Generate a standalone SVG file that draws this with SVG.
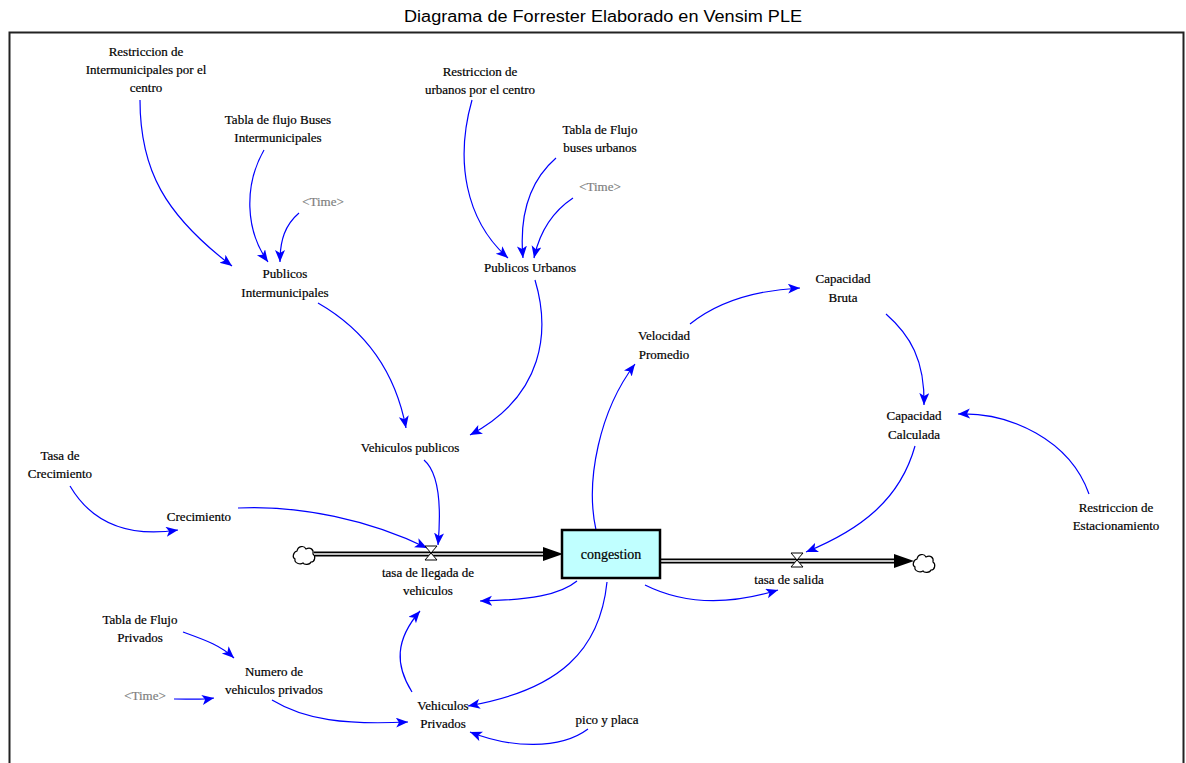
<svg xmlns="http://www.w3.org/2000/svg" width="1186" height="763" viewBox="0 0 1186 763">
  <style>
    .title { font-family: "Liberation Sans", Arial, sans-serif; font-size: 16px; fill: #000; }
    .lbl { font-family: "Liberation Serif", "Times New Roman", serif; font-size: 13px; fill: #000; text-anchor: middle; stroke: #000; stroke-width: 0.2; }
    .ghost { fill: #808080; stroke: #808080; }
    .link { fill: none; stroke: #0000ff; stroke-width: 1.2; marker-end: url(#ah); }
    .pipeOuter { stroke: #000; stroke-width: 5; fill: none; }
    .pipeInner { stroke: #fff; stroke-width: 1.6; fill: none; }
    .valve { fill: #fff; stroke: #000; stroke-width: 1; }
    .cloud { fill: #fff; stroke: #000; stroke-width: 1.2; }
  </style>
  <defs>
    <marker id="ah" markerUnits="userSpaceOnUse" markerWidth="14" markerHeight="12" refX="12" refY="5" orient="auto">
      <path d="M0,0 L12,5 L0,10 L3,5 z" fill="#0000ff"/>
    </marker>
  </defs>

  <rect width="1186" height="763" fill="#fff"/>
  <text class="title" x="603" y="22" text-anchor="middle" textLength="398" lengthAdjust="spacingAndGlyphs">Diagrama de Forrester Elaborado en Vensim PLE</text>

  <!-- outer frame -->
  <path d="M9.5,770 V32.5 H1183.5 V770" fill="none" stroke="#222" stroke-width="2"/>

  <!-- connectors -->
  <g id="connectors">
    <path class="link" d="M140,100 C140,170 165,215 232,266"/>
    <path class="link" d="M264,150 C244,185 245,230 268,262"/>
    <path class="link" d="M299,213 C285,225 280,240 280,262"/>
    <path class="link" d="M318,303 C365,330 395,370 406,428"/>
    <path class="link" d="M472,100 C455,160 465,220 508,258"/>
    <path class="link" d="M556,158 C525,185 520,225 523,258"/>
    <path class="link" d="M573,198 C555,210 540,230 534,258"/>
    <path class="link" d="M535,280 C550,330 545,395 470,435"/>
    <path class="link" d="M424,460 C438,472 442,500 438,545"/>
    <path class="link" d="M70,486 C90,520 125,538 178,530"/>
    <path class="link" d="M238,508 C300,505 370,520 427,548"/>
    <path class="link" d="M596,530 C585,480 600,410 635,364"/>
    <path class="link" d="M690,324 C720,300 760,290 800,288"/>
    <path class="link" d="M886,314 C910,335 925,360 924,405"/>
    <path class="link" d="M1089,494 C1070,440 1010,412 958,414"/>
    <path class="link" d="M915,446 C900,500 860,530 806,552"/>
    <path class="link" d="M577,581 C560,595 530,600 480,601"/>
    <path class="link" d="M645,585 C685,605 730,605 778,590"/>
    <path class="link" d="M607,582 C600,650 560,690 468,706"/>
    <path class="link" d="M412,692 C395,665 395,640 420,611"/>
    <path class="link" d="M183,632 C205,640 220,645 234,658"/>
    <path class="link" d="M174,699 C190,699 202,700 214,698"/>
    <path class="link" d="M272,700 C305,720 345,725 408,722"/>
    <path class="link" d="M588,729 C560,750 510,748 470,732"/>
  </g>

  <!-- inflow pipe -->
  <g id="inflow">
    <path class="cloud" d="M297,551 c1,-5 7,-6 9,-2 c4,-2 8,0 7,5 c3,2 2,8 -2,8 c-1,3 -7,3 -8,1 c-3,2 -9,0 -8,-4 c-3,-1 -2,-7 2,-8 z"/>
    <path class="pipeOuter" d="M314,554 H547"/>
    <path class="pipeInner" d="M314,554 H547"/>
    <path d="M543,547 L563,554 L543,561 z" fill="#000"/>
    <path class="valve" d="M425,546 H437 L425,560 H437 z"/>
  </g>

  <!-- outflow pipe -->
  <g id="outflow">
    <path class="pipeOuter" d="M661,561 H898"/>
    <path class="pipeInner" d="M661,561 H898"/>
    <path d="M894,554 L914,561 L894,568 z" fill="#000"/>
    <path class="cloud" d="M917,559 c1,-5 7,-6 9,-2 c4,-2 8,0 7,5 c3,2 2,8 -2,8 c-1,3 -7,3 -8,1 c-3,2 -9,0 -8,-4 c-3,-1 -2,-7 2,-8 z"/>
    <path class="valve" d="M791,553 H803 L791,567 H803 z"/>
  </g>

  <!-- stock -->
  <g id="congestion">
    <rect x="562" y="530" width="98" height="48" fill="#c0ffff" stroke="#000" stroke-width="2.5"/>
    <text class="lbl" x="611" y="559" style="font-size:14px">congestion</text>
  </g>

  <g id="restriccion-intermunicipales"><text class="lbl" x="146" y="56">Restriccion de</text><text class="lbl" x="146" y="74">Intermunicipales por el</text><text class="lbl" x="146" y="92">centro</text></g>
  <g id="tabla-buses-intermunicipales"><text class="lbl" x="278" y="124">Tabla de flujo Buses</text><text class="lbl" x="278" y="142">Intermunicipales</text></g>
  <g id="time-1"><text class="lbl ghost" x="323" y="206">&lt;Time&gt;</text></g>
  <g id="publicos-intermunicipales"><text class="lbl" x="285" y="278">Publicos</text><text class="lbl" x="285" y="297">Intermunicipales</text></g>
  <g id="restriccion-urbanos"><text class="lbl" x="480" y="76">Restriccion de</text><text class="lbl" x="480" y="94">urbanos por el centro</text></g>
  <g id="tabla-buses-urbanos"><text class="lbl" x="600" y="134">Tabla de Flujo</text><text class="lbl" x="600" y="152">buses urbanos</text></g>
  <g id="time-2"><text class="lbl ghost" x="600" y="191">&lt;Time&gt;</text></g>
  <g id="publicos-urbanos"><text class="lbl" x="530" y="272">Publicos Urbanos</text></g>
  <g id="velocidad-promedio"><text class="lbl" x="664" y="340">Velocidad</text><text class="lbl" x="664" y="359">Promedio</text></g>
  <g id="capacidad-bruta"><text class="lbl" x="843" y="283">Capacidad</text><text class="lbl" x="843" y="302">Bruta</text></g>
  <g id="capacidad-calculada"><text class="lbl" x="914" y="420">Capacidad</text><text class="lbl" x="914" y="439">Calculada</text></g>
  <g id="restriccion-estacionamiento"><text class="lbl" x="1116" y="512">Restriccion de</text><text class="lbl" x="1116" y="530">Estacionamiento</text></g>
  <g id="vehiculos-publicos"><text class="lbl" x="410" y="452">Vehiculos publicos</text></g>
  <g id="tasa-crecimiento"><text class="lbl" x="60" y="460">Tasa de</text><text class="lbl" x="60" y="478">Crecimiento</text></g>
  <g id="crecimiento"><text class="lbl" x="199" y="521">Crecimiento</text></g>
  <g id="tasa-llegada"><text class="lbl" x="428" y="577">tasa de llegada de</text><text class="lbl" x="428" y="595">vehiculos</text></g>
  <g id="tasa-salida"><text class="lbl" x="789" y="584">tasa de salida</text></g>
  <g id="tabla-privados"><text class="lbl" x="140" y="624">Tabla de Flujo</text><text class="lbl" x="140" y="642">Privados</text></g>
  <g id="numero-privados"><text class="lbl" x="274" y="676">Numero de</text><text class="lbl" x="274" y="694">vehiculos privados</text></g>
  <g id="time-3"><text class="lbl ghost" x="145" y="700">&lt;Time&gt;</text></g>
  <g id="vehiculos-privados"><text class="lbl" x="443" y="710">Vehiculos</text><text class="lbl" x="443" y="728">Privados</text></g>
  <g id="pico-placa"><text class="lbl" x="607" y="724">pico y placa</text></g>
</svg>
